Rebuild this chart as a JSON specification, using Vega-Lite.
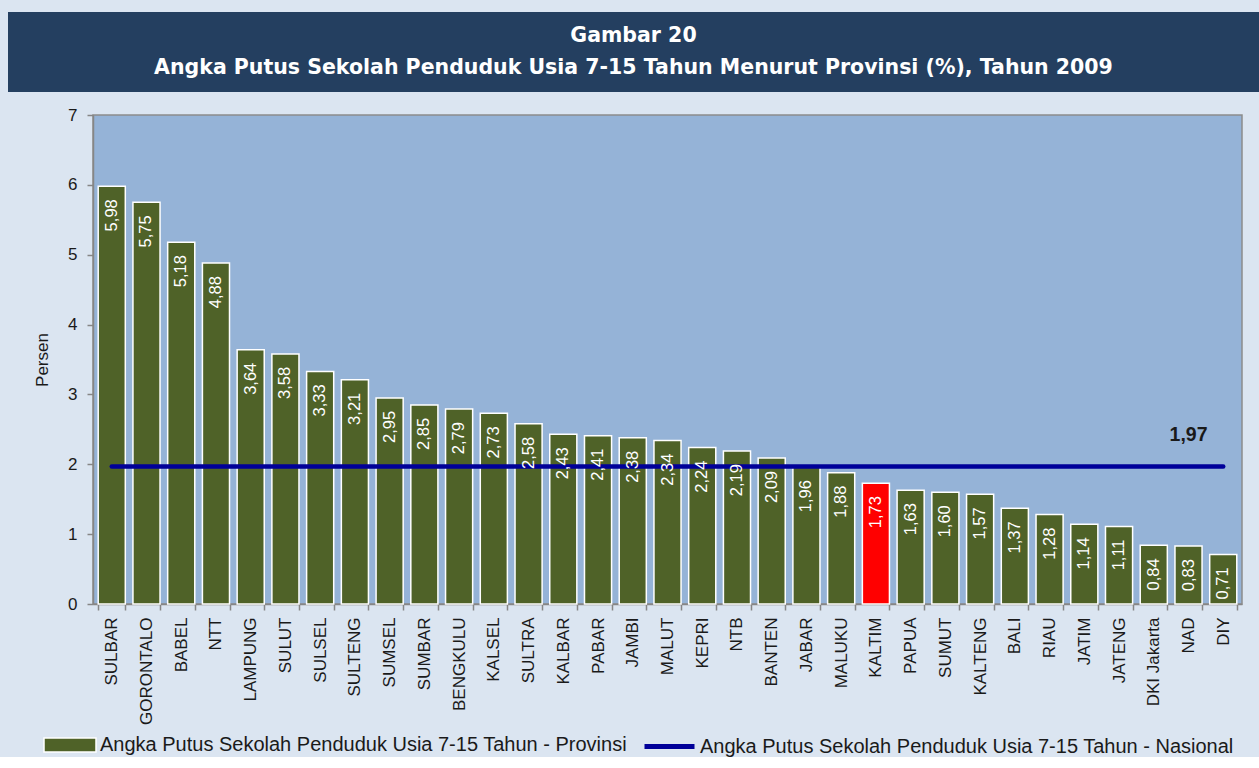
{
  "$schema": "https://vega.github.io/schema/vega-lite/v6.json",
  "background": "#DBE5F1",
  "padding": {"left": 8, "top": 12, "right": 0, "bottom": 0},
  "spacing": 13,
  "align": "none",
  "config": {
    "locale": {"number": {"decimal": ",", "thousands": ".", "grouping": [3], "currency": ["", ""]}},
    "font": "Liberation Sans",
    "axis": {"labelColor": "#1a1a1a", "titleColor": "#1a1a1a", "tickColor": "#868686", "domainColor": "#868686", "tickWidth": 1.5, "domainWidth": 1.5, "tickSize": 6, "grid": false},
    "axisX": {"labelFontSize": 17, "labelPadding": 7},
    "axisY": {"labelFontSize": 17, "labelPadding": 10, "titleFontSize": 17, "titleFontWeight": "normal", "titlePadding": 16},
    "legend": {"labelFontSize": 20, "labelColor": "#1a1a1a", "labelLimit": 900}
  },
  "vconcat": [
    {
      "width": 1251,
      "height": 80,
      "view": {"fill": "#243F60", "stroke": null},
      "data": {"values": [
        {"line": "Gambar 20"},
        {"line": "Angka Putus Sekolah Penduduk Usia 7-15 Tahun Menurut Provinsi (%), Tahun 2009"}
      ]},
      "mark": {"type": "text", "font": "DejaVu Sans", "fontWeight": "bold", "fontSize": 20.5, "color": "white", "baseline": "middle"},
      "encoding": {
        "y": {"field": "line", "type": "nominal", "sort": null, "scale": {"type": "point", "padding": 0.75}, "axis": null},
        "text": {"field": "line"}
      }
    },
    {
      "spacing": 20,
      "hconcat": [
        {
          "width": 4,
          "height": 489,
          "view": {"stroke": null, "fill": null},
          "data": {"values": []},
          "mark": "point"
        },
        {
          "width": 1149,
          "height": 489,
          "view": {"fill": "#95B3D7", "stroke": "#8C8C8C", "strokeWidth": 1.5},
          "data": {"values": [
            {"prov": "SULBAR", "value": 5.98, "nasional": 1.97},
            {"prov": "GORONTALO", "value": 5.75, "nasional": 1.97},
            {"prov": "BABEL", "value": 5.18, "nasional": 1.97},
            {"prov": "NTT", "value": 4.88, "nasional": 1.97},
            {"prov": "LAMPUNG", "value": 3.64, "nasional": 1.97},
            {"prov": "SULUT", "value": 3.58, "nasional": 1.97},
            {"prov": "SULSEL", "value": 3.33, "nasional": 1.97},
            {"prov": "SULTENG", "value": 3.21, "nasional": 1.97},
            {"prov": "SUMSEL", "value": 2.95, "nasional": 1.97},
            {"prov": "SUMBAR", "value": 2.85, "nasional": 1.97},
            {"prov": "BENGKULU", "value": 2.79, "nasional": 1.97},
            {"prov": "KALSEL", "value": 2.73, "nasional": 1.97},
            {"prov": "SULTRA", "value": 2.58, "nasional": 1.97},
            {"prov": "KALBAR", "value": 2.43, "nasional": 1.97},
            {"prov": "PABAR", "value": 2.41, "nasional": 1.97},
            {"prov": "JAMBI", "value": 2.38, "nasional": 1.97},
            {"prov": "MALUT", "value": 2.34, "nasional": 1.97},
            {"prov": "KEPRI", "value": 2.24, "nasional": 1.97},
            {"prov": "NTB", "value": 2.19, "nasional": 1.97},
            {"prov": "BANTEN", "value": 2.09, "nasional": 1.97},
            {"prov": "JABAR", "value": 1.96, "nasional": 1.97},
            {"prov": "MALUKU", "value": 1.88, "nasional": 1.97},
            {"prov": "KALTIM", "value": 1.73, "nasional": 1.97},
            {"prov": "PAPUA", "value": 1.63, "nasional": 1.97},
            {"prov": "SUMUT", "value": 1.60, "nasional": 1.97},
            {"prov": "KALTENG", "value": 1.57, "nasional": 1.97},
            {"prov": "BALI", "value": 1.37, "nasional": 1.97},
            {"prov": "RIAU", "value": 1.28, "nasional": 1.97},
            {"prov": "JATIM", "value": 1.14, "nasional": 1.97},
            {"prov": "JATENG", "value": 1.11, "nasional": 1.97},
            {"prov": "DKI Jakarta", "value": 0.84, "nasional": 1.97},
            {"prov": "NAD", "value": 0.83, "nasional": 1.97},
            {"prov": "DIY", "value": 0.71, "nasional": 1.97}
          ]},
          "encoding": {
            "x": {
              "field": "prov", "type": "nominal", "sort": null,
              "scale": {"paddingInner": 0.22, "paddingOuter": 0.15},
              "axis": {"title": null, "labelAngle": -90, "tickBand": "extent"}
            },
            "y": {
              "field": "value", "type": "quantitative",
              "scale": {"domain": [0, 7], "nice": false},
              "axis": {"title": "Persen", "titleFontSize": 17, "titleFontWeight": "normal", "values": [0, 1, 2, 3, 4, 5, 6, 7], "format": "d"}
            }
          },
          "layer": [
            {
              "mark": {"type": "bar", "stroke": "white", "strokeWidth": 1.5},
              "encoding": {
                "fill": {
                  "datum": "Angka Putus Sekolah Penduduk Usia 7-15 Tahun - Provinsi",
                  "scale": {"range": ["#4F6228"]},
                  "condition": {"test": "datum.prov === 'KALTIM'", "value": "#FF0000"},
                  "legend": {
                    "title": null, "orient": "none", "legendX": 35, "legendY": 706,
                    "symbolType": "M-1,-0.27H1V0.27H-1Z", "symbolSize": 2704,
                    "symbolStrokeColor": "white", "symbolStrokeWidth": 1.5, "labelOffset": 3
                  }
                }
              }
            },
            {
              "mark": {"type": "line", "strokeWidth": 4.5, "strokeCap": "round"},
              "encoding": {
                "y": {"field": "nasional", "type": "quantitative", "axis": {"title": "Persen", "titleFontSize": 17, "titleFontWeight": "normal", "values": [0, 1, 2, 3, 4, 5, 6, 7], "format": "d"}},
                "stroke": {
                  "datum": "Angka Putus Sekolah Penduduk Usia 7-15 Tahun - Nasional",
                  "scale": {"range": ["#000099"]},
                  "legend": {
                    "title": null, "orient": "none", "legendX": 634, "legendY": 707,
                    "symbolType": "stroke", "symbolSize": 2500, "symbolStrokeWidth": 5, "labelOffset": 3
                  }
                }
              }
            },
            {
              "mark": {"type": "text", "angle": 270, "align": "right", "baseline": "middle", "dx": -13, "fontSize": 16.5, "color": "white"},
              "encoding": {
                "text": {"field": "value", "type": "quantitative", "format": ".2f"}
              }
            },
            {
              "transform": [{"filter": "datum.prov === 'NAD'"}],
              "mark": {"type": "text", "baseline": "middle", "dy": -31, "fontSize": 19.5, "fontWeight": "bold", "color": "#1a1a1a"},
              "encoding": {
                "y": {"field": "nasional", "type": "quantitative", "axis": {"title": "Persen", "titleFontSize": 17, "titleFontWeight": "normal", "values": [0, 1, 2, 3, 4, 5, 6, 7], "format": "d"}},
                "text": {"field": "nasional", "type": "quantitative", "format": ".2f"}
              }
            }
          ]
        }
      ]
    }
  ]
}
